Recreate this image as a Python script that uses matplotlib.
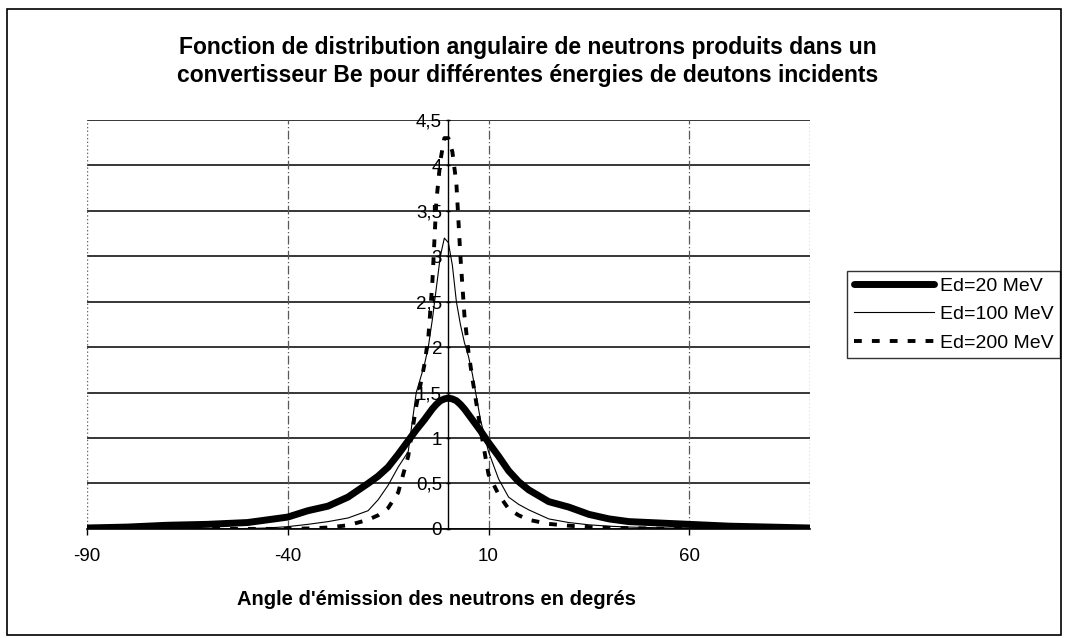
import matplotlib
matplotlib.use('Agg')
import matplotlib.pyplot as plt
from matplotlib.patches import Rectangle
import numpy as np

plt.rcParams['font.family'] = ['Liberation Sans', 'DejaVu Sans']

# angle d'emission (degres)
Angles = [-90, -80, -70, -60, -55, -50, -45, -40, -35, -30, -25, -20, -17.5, -15, -12.5, -10, -8, -6, -5, -4, -3, -2, -1,
          0, 1, 2, 3, 4, 5, 6, 8, 10, 12.5, 15, 17.5, 20, 25, 30, 35, 40, 45, 50, 55, 60, 70, 80, 90]

Ed20 = [0.01, 0.02, 0.04, 0.05, 0.06, 0.07, 0.1, 0.13, 0.2, 0.25, 0.35, 0.5, 0.58, 0.68, 0.82, 0.97, 1.09, 1.2, 1.26, 1.32, 1.37, 1.41, 1.43,
        1.44, 1.43, 1.41, 1.37, 1.32, 1.26, 1.2, 1.08, 0.95, 0.8, 0.64, 0.52, 0.43, 0.3, 0.24, 0.16, 0.11, 0.08, 0.07, 0.06, 0.05, 0.03, 0.02, 0.01]

Ed100 = [0, 0, 0, 0, 0, 0.005, 0.01, 0.025, 0.05, 0.08, 0.12, 0.2, 0.32, 0.48, 0.68, 0.85, 1.5, 1.8, 2.0, 2.3, 2.65, 3.0, 3.2,
         3.15, 2.9, 2.5, 2.25, 2.05, 1.9, 1.7, 1.2, 0.85, 0.55, 0.35, 0.27, 0.21, 0.11, 0.07, 0.045, 0.03, 0.02, 0.015, 0.01, 0.01, 0.005, 0, 0]

Ed200 = [0, 0, 0, 0, 0, 0, 0, 0, 0.005, 0.015, 0.04, 0.1, 0.15, 0.23, 0.4, 0.8, 1.35, 1.8, 2.1, 2.7, 3.6, 4.05, 4.3,
         4.3, 4.15, 3.8, 3.0, 2.35, 1.95, 1.65, 1.1, 0.6, 0.38, 0.22, 0.15, 0.1, 0.055, 0.035, 0.02, 0.012, 0.008, 0.005, 0, 0, 0, 0, 0]

xTicks = [-90, -40, 10, 60]
yTicks = [0, 0.5, 1, 1.5, 2, 2.5, 3, 3.5, 4, 4.5]
yTickLabels = ['0', '0,5', '1', '1,5', '2', '2,5', '3', '3,5', '4', '4,5']

fig = plt.figure(figsize=(10.66, 6.38), dpi=100, facecolor='w')
ax = fig.add_axes([0.0816, 0.171, 0.678, 0.641])

ax.set_xlim(-90, 90)
ax.set_ylim(0, 4.5)

# grille
for yv in yTicks:
    ax.axhline(y=yv, color='k', linewidth=1.1, zorder=1)
for xv in xTicks[1:]:
    ax.axvline(x=xv, color='0.35', linewidth=0.9, linestyle=(0, (7, 2, 1, 2)), zorder=1)
ax.axvline(x=-90, color='0.4', linewidth=1.0, linestyle=':', zorder=1)
ax.axvline(x=90, color='0.4', linewidth=1.0, linestyle=':', zorder=1)

ax.plot(Angles, Ed20, color='k', linewidth=5, solid_capstyle='round', label='Ed=20 MeV', zorder=3)
ax.plot(Angles, Ed100, color='k', linewidth=0.8, label='Ed=100 MeV', zorder=4)
ax.plot(Angles, Ed200, color='k', linewidth=2.8, linestyle=(0, (2, 2.6)), label='Ed=200 MeV', zorder=4)

ax.spines['left'].set_position(('data', 0))
ax.spines['left'].set_linewidth(1.0)
ax.spines['bottom'].set_linewidth(1.2)
ax.spines['top'].set_visible(False)
ax.spines['right'].set_visible(False)

ax.set_xticks(xTicks)
ax.set_xticklabels([str(v) for v in xTicks])
ax.set_yticks(yTicks)
ax.set_yticklabels(yTickLabels)
ax.tick_params(axis='x', labelsize=13.5, length=4, width=1, direction='out', pad=10)
ax.tick_params(axis='y', labelsize=13.5, length=3, width=1, direction='inout', pad=3)

ax.set_xlabel("Angle d'émission des neutrons en degrés", fontsize=14.5, fontweight='bold')
ax.xaxis.set_label_coords(0.483, -0.149)

fig.text(0.495, 0.904, 'Fonction de distribution angulaire de neutrons produits dans un\n'
         'convertisseur Be pour différentes énergies de deutons incidents',
         ha='center', va='center', fontsize=16.5, fontweight='bold', linespacing=1.3)

leg = ax.legend(loc='upper left', bbox_to_anchor=(0.795, 0.576), bbox_transform=fig.transFigure,
                fontsize=14, frameon=True, fancybox=False, handlelength=4.1, handletextpad=0.3,
                borderpad=0.35, labelspacing=0.55, borderaxespad=0)
leg.get_frame().set_edgecolor('k')
leg.get_frame().set_linewidth(1.0)

fig.patches.append(Rectangle((0.007, 0.004), 0.988, 0.982, transform=fig.transFigure,
                             fill=False, edgecolor='k', linewidth=1.2))

fig.savefig('out.png', dpi=100)
